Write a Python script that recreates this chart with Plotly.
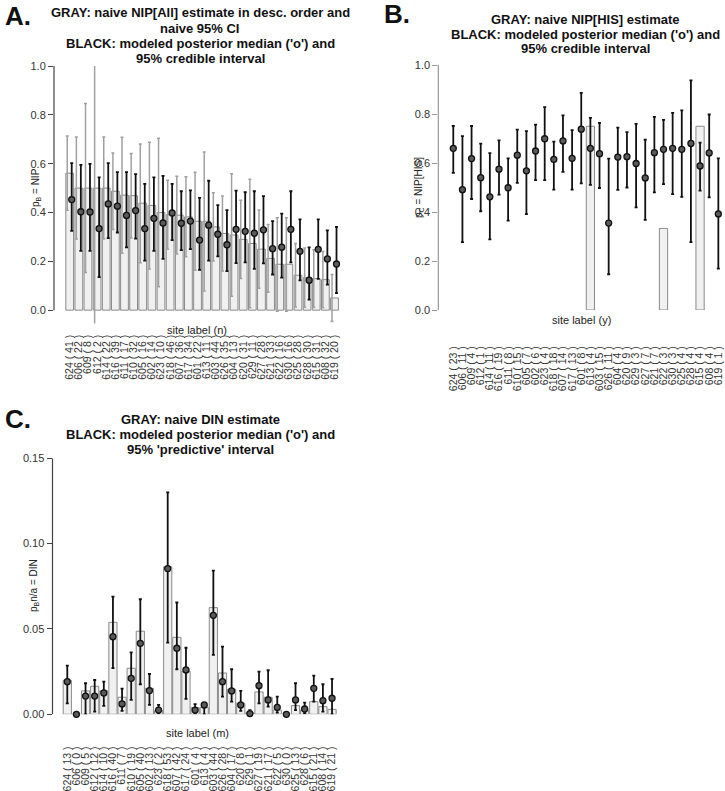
import plotly.graph_objects as go

W, H = 725, 791

# ---- data ----
sites = ["624", "606", "609", "612", "614", "616", "611", "610", "605", "602",
         "623", "618", "607", "617", "601", "613", "603", "626", "604", "620",
         "629", "627", "621", "622", "630", "625", "628", "615", "608", "619"]
n_all = [41, 22, 8, 2, 22, 39, 17, 32, 16, 14, 10, 46, 36, 34, 22,
         11, 44, 35, 13, 31, 11, 28, 33, 16, 16, 28, 30, 31, 32, 20]
y_his = [23, 11, 4, 1, 11, 19, 8, 15, 7, 6, 4, 18, 14, 13, 8,
         4, 15, 11, 4, 9, 3, 7, 7, 3, 3, 4, 4, 4, 4, 1]
m_din = [13, 0, 5, 12, 10, 40, 7, 19, 40, 13, 2, 53, 42, 24, 4,
         4, 44, 28, 17, 8, 1, 19, 17, 5, 0, 13, 6, 21, 14, 21]

# panel A: naive NIP[All] + naive 95% CI, modeled median + 95% CrI
naive_nip = [0.561, 0.5, 0.5, 0.5, 0.5, 0.487, 0.471, 0.469, 0.438, 0.429,
             0.4, 0.391, 0.389, 0.382, 0.364, 0.364, 0.341, 0.314, 0.308, 0.290,
             0.273, 0.25, 0.212, 0.188, 0.188, 0.143, 0.133, 0.129, 0.125, 0.05]
naive_lo = [0.409, 0.291, 0.154, -0.193, 0.291, 0.330, 0.233, 0.296, 0.194, 0.169,
            0.096, 0.250, 0.230, 0.219, 0.163, 0.079, 0.201, 0.160, 0.057, 0.130,
            0.010, 0.090, 0.073, -0.004, -0.004, 0.013, 0.012, 0.011, 0.010, -0.046]
naive_hi = [0.713, 0.709, 0.846, 1.193, 0.709, 0.644, 0.708, 0.642, 0.681, 0.688,
            0.704, 0.532, 0.548, 0.546, 0.565, 0.648, 0.481, 0.468, 0.559, 0.450,
            0.536, 0.410, 0.351, 0.379, 0.379, 0.273, 0.255, 0.247, 0.240, 0.146]
med_a = [0.453, 0.403, 0.402, 0.334, 0.435, 0.426, 0.388, 0.408, 0.334, 0.376,
         0.357, 0.398, 0.356, 0.365, 0.287, 0.348, 0.311, 0.268, 0.331, 0.323,
         0.315, 0.329, 0.252, 0.258, 0.331, 0.241, 0.123, 0.249, 0.21, 0.189]
lo_a = [0.325, 0.243, 0.243, 0.135, 0.295, 0.318, 0.257, 0.293, 0.203, 0.243,
        0.21, 0.287, 0.246, 0.25, 0.165, 0.203, 0.22, 0.16, 0.193, 0.196,
        0.169, 0.192, 0.146, 0.133, 0.196, 0.122, 0.043, 0.128, 0.105, 0.07]
hi_a = [0.602, 0.595, 0.599, 0.544, 0.602, 0.565, 0.565, 0.557, 0.517, 0.544,
        0.55, 0.517, 0.487, 0.491, 0.46, 0.53, 0.43, 0.41, 0.49, 0.483,
        0.487, 0.467, 0.365, 0.395, 0.487, 0.372, 0.257, 0.372, 0.327, 0.341]

# panel B: naive NIP[HIS] (only three sites), modeled median + 95% CrI
naive_his = [None] * 15 + [0.75] + [None] * 7 + [0.333] + [None] * 3 + [0.75] + [None] * 2
med_b = [0.66, 0.491, 0.618, 0.54, 0.462, 0.575, 0.499, 0.632, 0.568, 0.649,
         0.699, 0.615, 0.69, 0.619, 0.738, 0.66, 0.638, 0.355, 0.624, 0.626,
         0.598, 0.539, 0.642, 0.656, 0.66, 0.656, 0.68, 0.588, 0.641, 0.392]
lo_b = [0.56, 0.277, 0.453, 0.403, 0.288, 0.471, 0.365, 0.519, 0.391, 0.53,
        0.53, 0.491, 0.564, 0.491, 0.517, 0.511, 0.498, 0.146, 0.49, 0.5,
        0.419, 0.368, 0.48, 0.514, 0.473, 0.462, 0.277, 0.487, 0.46, 0.169]
hi_b = [0.751, 0.71, 0.751, 0.679, 0.64, 0.692, 0.619, 0.736, 0.73, 0.757,
        0.828, 0.687, 0.794, 0.734, 0.886, 0.784, 0.764, 0.618, 0.744, 0.726,
        0.76, 0.695, 0.788, 0.776, 0.805, 0.815, 0.937, 0.683, 0.798, 0.619]

# panel C: naive DIN, modeled median + 95% predictive interval
naive_din = [0.0199, 0, 0.0137, 0.0164, 0.0137, 0.0539, 0.01, 0.027, 0.0487, 0.0152,
             0.0021, 0.0864, 0.0451, 0.0252, 0.0039, 0.0039, 0.0625, 0.0242, 0.0147, 0.0064,
             0.0008, 0.0131, 0.01, 0.0025, 0, 0.0051, 0.0025, 0.0074, 0.0045, 0.0029]
med_c = [0.0191, 0, 0.0107, 0.0107, 0.0125, 0.0455, 0.0061, 0.0211, 0.0416, 0.0139,
         0.0025, 0.0854, 0.0387, 0.026, 0.0025, 0.0055, 0.058, 0.0191, 0.0137, 0.0055,
         0.0004, 0.0168, 0.0084, 0.0041, 0, 0.0084, 0.0031, 0.0152, 0.008, 0.0094]
lo_c = [0.0064, 0, 0, 0.0016, 0.0049, 0.027, 0.002, 0.0084, 0.0176, 0.0055,
        0.0006, 0.042, 0.0264, 0.009, 0.0006, 0, 0.0348, 0.0104, 0.0074, 0.002,
        0, 0.0064, 0.0045, 0.001, 0, 0.0025, 0.0006, 0.0074, 0.0016, 0]
hi_c = [0.0285, 0, 0.0182, 0.0201, 0.0191, 0.069, 0.015, 0.0363, 0.0674, 0.0236,
        0.0055, 0.130, 0.0655, 0.039, 0.006, 0.0064, 0.0842, 0.0397, 0.0264, 0.0137,
        0.0025, 0.025, 0.0258, 0.0104, 0, 0.0182, 0.0068, 0.0227, 0.0176, 0.0207]

FONT = "Liberation Sans, Arial, Helvetica, sans-serif"
BAR_FILL = "#f0f0f0"
BAR_EDGE = "#8a8a8a"


def px(x):
    return x / W


def py(y):
    return 1 - y / H


def labels(counts):
    return [f"{s} ( {c} )" for s, c in zip(sites, counts)]


def err(mid, lo, hi):
    plus = [h - m for m, h in zip(mid, hi)]
    minus = [m - l for m, l in zip(mid, lo)]
    return plus, minus


idx = list(range(len(sites)))
point_marker = dict(symbol="circle", size=6, color="#5a5a5a",
                    line=dict(color="#111111", width=1.3))

fig = go.Figure()

# ---- panel A ----
fig.add_trace(go.Bar(
    x=idx, y=naive_nip, width=0.85,
    marker=dict(color=BAR_FILL, line=dict(color=BAR_EDGE, width=1)),
    xaxis="x", yaxis="y",
))
p, m = err(naive_nip, naive_lo, naive_hi)
fig.add_trace(go.Scatter(
    x=[i - 0.27 for i in idx], y=naive_nip, mode="markers",
    marker=dict(size=1, color="rgba(0,0,0,0)"),
    error_y=dict(type="data", symmetric=False, array=p, arrayminus=m,
                 color="#a0a0a0", thickness=1.5, width=1.5),
    xaxis="x", yaxis="y",
))
p, m = err(med_a, lo_a, hi_a)
fig.add_trace(go.Scatter(
    x=[i + 0.22 for i in idx], y=med_a, mode="markers", marker=point_marker,
    error_y=dict(type="data", symmetric=False, array=p, arrayminus=m,
                 color="#111111", thickness=1.8, width=1.5),
    cliponaxis=False, xaxis="x", yaxis="y",
))

# ---- panel B ----
fig.add_trace(go.Bar(
    x=idx, y=naive_his, width=0.9,
    marker=dict(color=BAR_FILL, line=dict(color=BAR_EDGE, width=1)),
    xaxis="x2", yaxis="y2",
))
p, m = err(med_b, lo_b, hi_b)
fig.add_trace(go.Scatter(
    x=idx, y=med_b, mode="markers", marker=point_marker,
    error_y=dict(type="data", symmetric=False, array=p, arrayminus=m,
                 color="#111111", thickness=1.8, width=1.5),
    cliponaxis=False, xaxis="x2", yaxis="y2",
))

# ---- panel C ----
fig.add_trace(go.Bar(
    x=idx, y=naive_din, width=0.9,
    marker=dict(color=BAR_FILL, line=dict(color=BAR_EDGE, width=1)),
    xaxis="x3", yaxis="y3",
))
p, m = err(med_c, lo_c, hi_c)
fig.add_trace(go.Scatter(
    x=idx, y=med_c, mode="markers", marker=point_marker,
    error_y=dict(type="data", symmetric=False, array=p, arrayminus=m,
                 color="#111111", thickness=1.8, width=1.5),
    cliponaxis=False, xaxis="x3", yaxis="y3",
))

xtickfont = dict(family=FONT, size=10.5, color="#333333")
ytickfont = dict(family=FONT, size=11, color="#333333")


def xaxis(domain, rng, anchor, counts, standoff):
    return dict(
        domain=domain, range=rng, anchor=anchor,
        tickmode="array", tickvals=idx, ticktext=labels(counts),
        tickangle=-90, ticks="outside", ticklen=standoff,
        tickcolor="rgba(0,0,0,0)", tickfont=xtickfont,
        showline=False, showgrid=False, zeroline=False, automargin=False,
    )


def yaxis(domain, rng, anchor, vals, fmt, color):
    return dict(
        domain=domain, range=rng, anchor=anchor,
        tickmode="array", tickvals=vals, tickformat=fmt,
        ticks="outside", ticklen=5, tickcolor=color, tickwidth=1,
        tickfont=ytickfont,
        showline=False, showgrid=False, zeroline=False, automargin=False,
    )


fig.update_layout(
    width=W, height=H,
    margin=dict(l=0, r=0, t=0, b=0),
    template="none",
    paper_bgcolor="white", plot_bgcolor="white",
    font=dict(family=FONT, color="#111111"),
    showlegend=False,
    xaxis=xaxis([px(54), px(345)], [-1.72, 30.15], "y", n_all, 6),
    yaxis=yaxis([py(323.6), py(66)], [-0.055, 1.0], "x",
                [0, 0.2, 0.4, 0.6, 0.8, 1.0], ".1f", "#444444"),
    xaxis2=xaxis([px(438.3), px(722)], [-1.64, 29.4], "y2", y_his, 31),
    yaxis2=yaxis([py(310), py(65)], [0, 1.0], "x2",
                 [0, 0.2, 0.4, 0.6, 0.8, 1.0], ".1f", "#999999"),
    xaxis3=xaxis([px(52.5), px(345)], [-1.62, 30.42], "y3", m_din, 27),
    yaxis3=yaxis([py(714.3), py(458.3)], [0, 0.15], "x3",
                 [0, 0.05, 0.10, 0.15], ".2f", "#444444"),
)

# R-style y axis lines spanning only the tick range
for xr, yr, top, col in [("x domain", "y", 1.0, "#444444"),
                         ("x2 domain", "y2", 1.0, "#999999"),
                         ("x3 domain", "y3", 0.15, "#444444")]:
    fig.add_shape(type="line", xref=xr, yref=yr, x0=0, x1=0, y0=0, y1=top,
                  line=dict(color=col, width=1.2))

title_font = dict(family=FONT, size=13, color="#111111")
titles = [
    (200, [12.5, 28.5, 44, 58.5],
     ["GRAY: naive NIP[All] estimate in desc. order and", "naive 95% CI",
      "BLACK: modeled posterior median ('o') and", "95% credible interval"]),
    (585, [19, 34.3, 48.7],
     ["GRAY: naive NIP[HIS] estimate",
      "BLACK: modeled posterior median ('o') and", "95% credible interval"]),
    (200, [419.5, 434.5, 449.5],
     ["GRAY: naive DIN estimate",
      "BLACK: modeled posterior median ('o') and", "95% 'predictive' interval"]),
]
for cx, ys, lines in titles:
    for yy, txt in zip(ys, lines):
        fig.add_annotation(x=px(cx), y=py(yy), xref="paper", yref="paper",
                           text=f"<b>{txt}</b>", showarrow=False,
                           xanchor="center", yanchor="middle", font=title_font)

for lx, ly, txt in [(18, 16, "A."), (397, 14, "B."), (18, 419, "C.")]:
    fig.add_annotation(x=px(lx), y=py(ly), xref="paper", yref="paper",
                       text=f"<b>{txt}</b>", showarrow=False,
                       xanchor="center", yanchor="middle",
                       font=dict(family=FONT, size=26, color="#111111"))

axis_font = dict(family=FONT, size=11, color="#222222")
for lx, ly, txt in [(197, 330, "site label (n)"), (581, 320, "site label (y)"),
                    (197, 733, "site label (m)")]:
    fig.add_annotation(x=px(lx), y=py(ly), xref="paper", yref="paper", text=txt,
                       showarrow=False, xanchor="center", yanchor="middle",
                       font=axis_font)

ytitle_font = dict(family=FONT, size=10, color="#222222")
for lx, ly, txt in [(36, 188, "p<sub>B</sub> = NIP"),
                    (419, 188, "p<sub>C</sub> = NIP[HIS]"),
                    (34, 586, "p<sub>B</sub>n/a = DIN")]:
    fig.add_annotation(x=px(lx), y=py(ly), xref="paper", yref="paper", text=txt,
                       showarrow=False, xanchor="center", yanchor="middle",
                       textangle=-90, font=ytitle_font)

fig.write_html("out.html", config={"displayModeBar": False},
               post_script="document.body.style.margin='0px';")
